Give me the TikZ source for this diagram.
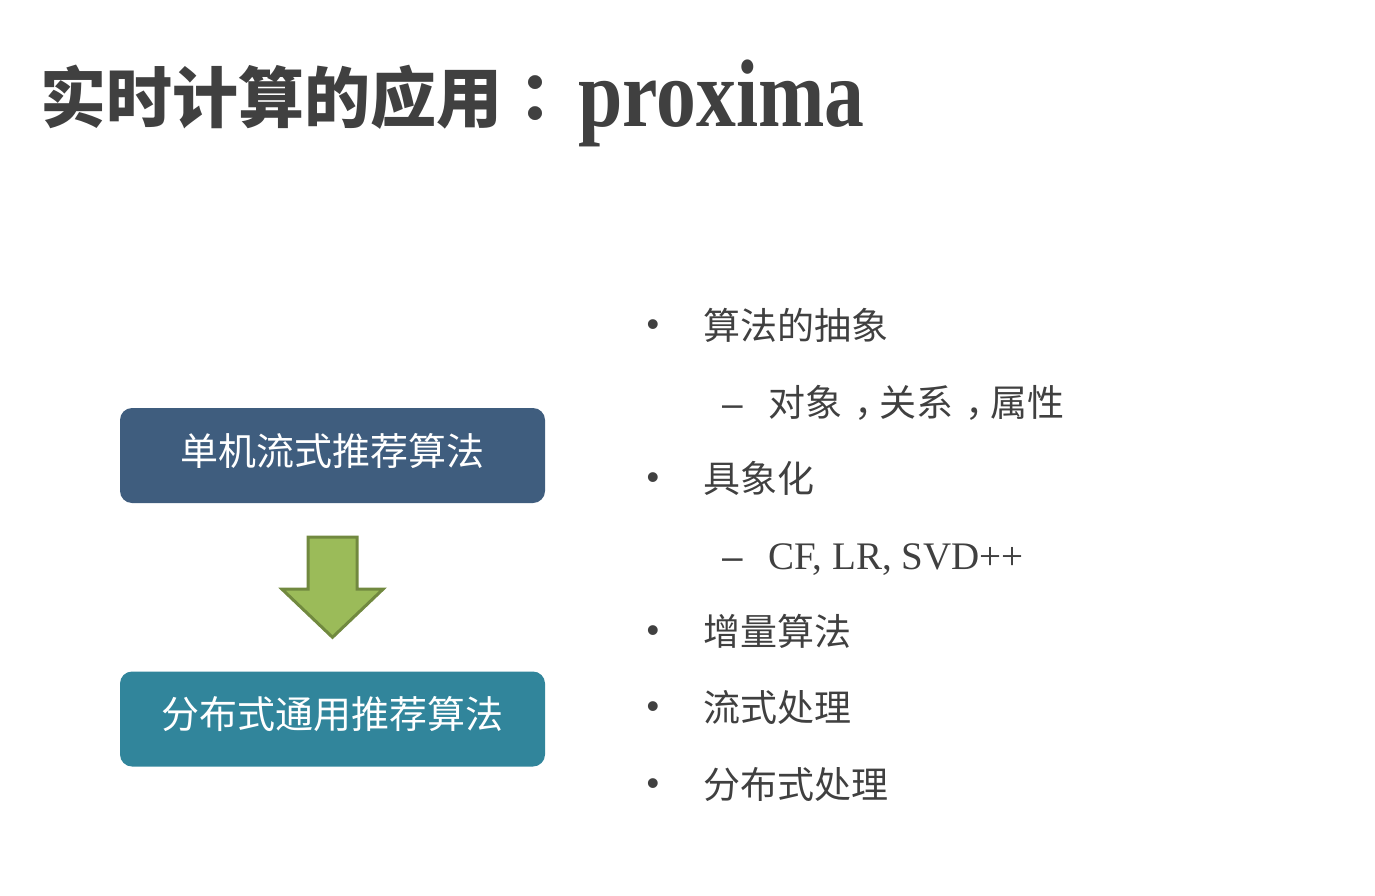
\documentclass[tikz,border=0pt]{standalone}
\usepackage{fontspec}
\setmainfont{Noto Sans CJK SC}
\newfontfamily\punctfont{Noto Sans CJK TC}
\newfontfamily\latinserif{Liberation Serif}
\newfontfamily\latinsans{Liberation Sans}
\usetikzlibrary{calc}
\definecolor{textgray}{HTML}{404040}
\definecolor{slateblue}{HTML}{3F5D7E}
\definecolor{tealbox}{HTML}{31859B}
\definecolor{arrowgreen}{HTML}{9BBB59}
\definecolor{arrowedge}{HTML}{71893F}
\newcommand{\midcomma}{\kern0.33em，\kern-0.33em}

\begin{document}
\begin{tikzpicture}[x=1pt, y=-1pt,
    box/.style={rounded corners=12pt, minimum width=425pt, minimum height=95pt, inner sep=0pt,
                text=white, font=\fontsize{38}{40}\selectfont, text height=33pt, text depth=14pt},
    item/.style={anchor=base west, inner sep=0pt, text=textgray, font=\fontsize{37}{40}\selectfont},
    dot/.style={inner sep=0pt, text=textgray, font=\latinsans\fontsize{36}{40}\selectfont},
    flow/.style={fill=arrowgreen, draw=arrowedge, line width=3pt}]
    \useasboundingbox (0,0) rectangle (1375,896);
    % title
    \node[anchor=base west, inner sep=0pt, text=textgray, font=\bfseries\fontsize{66}{70}\selectfont] (title) at (40,123) {实时计算的应用{\punctfont ：}};
    \node[anchor=base west, inner sep=0pt, text=textgray, font=\latinserif\bfseries\fontsize{96}{100}\selectfont] (name) at (578,127) {\scalebox{0.83}[1]{proxima}};
    % left: the two boxes and the block arrow
    \node[box, fill=slateblue] (single) at (332.5,455.5) {单机流式推荐算法};
    \node[box, fill=tealbox] (distributed) at (332.5,719) {分布式通用推荐算法};
    \coordinate (tail) at ($(single.south)+(0,34)$);
    \coordinate (tip) at ($(distributed.north)+(0,-34)$);
    \draw[flow] ($(tail)+(-24.5,0)$) -- ($(tail)+(24.5,0)$) -- ($(tail)+(24.5,52)$) -- ($(tail)+(50.5,52)$)
        -- (tip) -- ($(tail)+(-50.5,52)$) -- ($(tail)+(-24.5,52)$) -- cycle;
    % right: the list
    \node[dot] (b1) at (653,328) {•};
    \node[item] (abstract) at (703,339) {算法的抽象};
    \node[item, font=\latinsans\fontsize{37}{40}\selectfont] (d1) at (722,416) {–};
    \node[item] (objects) at (768,416) {对象\midcomma 关系\midcomma 属性};
    \node[dot] (b2) at (653,481) {•};
    \node[item] (concrete) at (703,492) {具象化};
    \node[item, font=\latinsans\fontsize{37}{40}\selectfont] (d2) at (722,569) {–};
    \node[item, font=\latinserif\fontsize{39}{40}\selectfont] (models) at (768,569) {CF, LR, SVD++};
    \node[dot] (b3) at (653,634) {•};
    \node[item] (incremental) at (703,645) {增量算法};
    \node[dot] (b4) at (653,710) {•};
    \node[item] (stream) at (703,721) {流式处理};
    \node[dot] (b5) at (653,787) {•};
    \node[item] (dist) at (703,798) {分布式处理};
\end{tikzpicture}
\end{document}
